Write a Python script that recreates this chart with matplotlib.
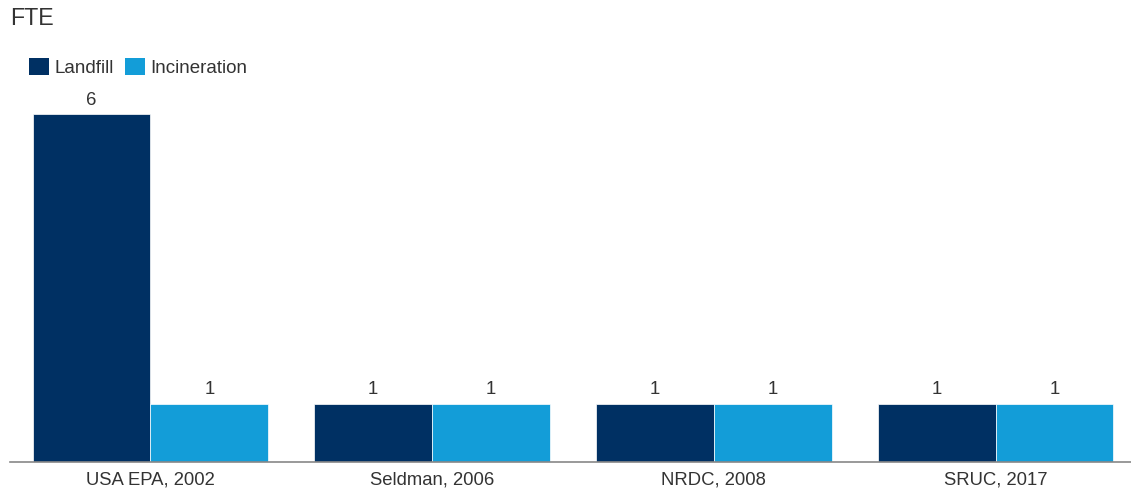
import numpy as np
import matplotlib
matplotlib.use("Agg")
import matplotlib.pyplot as plt
from matplotlib.patches import Patch

# data
studies = ["USA EPA, 2002", "Seldman, 2006", "NRDC, 2008", "SRUC, 2017"]
landfill = [6, 1, 1, 1]
incineration = [1, 1, 1, 1]

dark = "#003063"
light = "#139DD8"
txt = "#333333"

plt.rcParams["font.family"] = ["Liberation Sans", "DejaVu Sans"]

W, H = 1131, 492
fig = plt.figure(figsize=(W / 100, H / 100), dpi=100)
# axes in pixel coords: left 10, baseline at y=461.5, 57.9 px per unit
unit = 57.9
ymax = 7
ax = fig.add_axes([9.5 / W, (H - 461.5) / H, 1127 / W, ymax * unit / H])

x = np.arange(len(studies))
bw = 0.418
b1 = ax.bar(x - bw / 2, landfill, bw, color=dark, edgecolor="white", linewidth=0.5)
b2 = ax.bar(x + bw / 2, incineration, bw, color=light, edgecolor="white", linewidth=0.5)

for bars in (b1, b2):
    for r in bars:
        ax.annotate(f"{r.get_height():g}", (r.get_x() + r.get_width() / 2, r.get_height()),
                    xytext=(0, 4), textcoords="offset points", ha="center", va="bottom",
                    fontsize=13.3, color=txt)

ax.set_xlim(-0.5, len(studies) - 0.5)
ax.set_ylim(0, ymax)
ax.set_xticks(x)
ax.set_xticklabels(studies, fontsize=13.3, color=txt)
ax.tick_params(axis="x", length=0, pad=7.5)
ax.set_yticks([])
for s in ("top", "right", "left"):
    ax.spines[s].set_visible(False)
ax.spines["bottom"].set_color("#888888")
ax.spines["bottom"].set_linewidth(1.2)

fig.text(10 / W, 1 - 18.5 / H, "FTE", fontsize=16.7, color=txt, va="center", ha="left")

handles = [Patch(facecolor=dark, label="Landfill"), Patch(facecolor=light, label="Incineration")]
fig.legend(handles=handles, loc="upper left", bbox_to_anchor=(29 / W, 1 - 58 / H),
           ncol=2, frameon=False, fontsize=13.5, handlelength=1.05, handleheight=1.05,
           handletextpad=0.3, columnspacing=0.6, borderpad=0, borderaxespad=0,
           labelcolor=txt)

fig.savefig("out.png", dpi=100)
